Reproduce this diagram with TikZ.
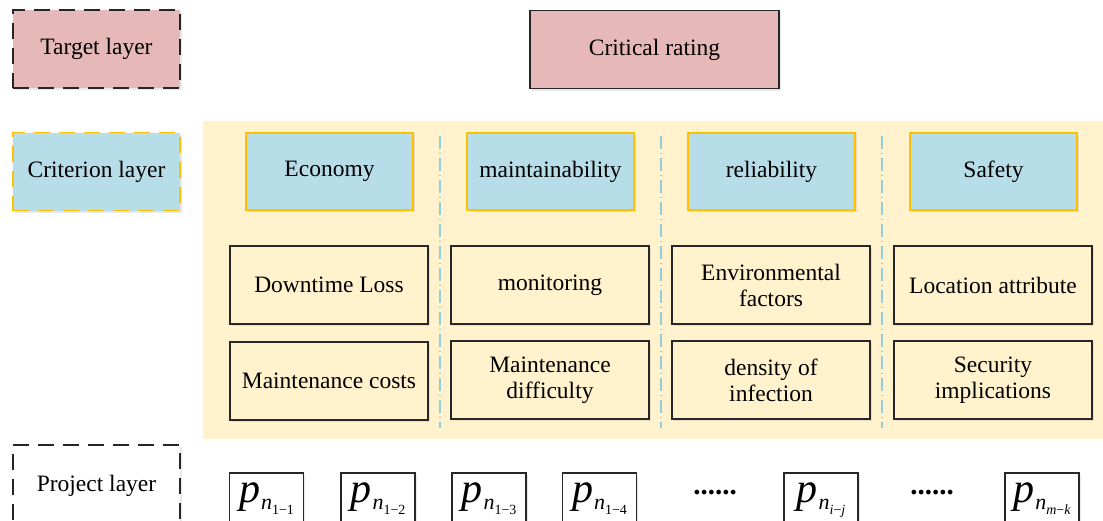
\documentclass[tikz,border=0pt]{standalone}
\usepackage{fontspec}
\setmainfont{Liberation Serif}
\usetikzlibrary{shadows}
\definecolor{pinkfill}{HTML}{E6B8B7}
\definecolor{bluefill}{HTML}{B7DDE8}
\definecolor{orangeline}{HTML}{FFC000}
\definecolor{yellowbg}{HTML}{FFF2CC}
\definecolor{sepblue}{HTML}{92CDDC}
\newcommand{\pitem}[2]{{\fontsize{42}{42}\selectfont\itshape p\/}\kern1pt\raisebox{-7pt}{\fontsize{22}{22}\selectfont\itshape n\raisebox{-5pt}{\fontsize{14}{14}\selectfont\upshape #1−#2}}}
\tikzset{
  shade/.style={drop shadow={shadow xshift=1.5pt, shadow yshift=-2pt, opacity=0.18, fill=gray}},
  layerbox/.style={draw, line width=1.8pt, dash pattern=on 16pt off 9pt, minimum width=167pt, minimum height=78pt, inner sep=0pt, font=\fontsize{23.5}{27}\selectfont, shade},
  critbox/.style={draw=orangeline, line width=1.6pt, fill=bluefill, minimum width=167pt, minimum height=77pt, inner sep=0pt, font=\fontsize{23.5}{27}\selectfont, shade},
  subbox/.style={draw=black!85, line width=1.6pt, fill=yellowbg, minimum width=198pt, minimum height=78pt, inner sep=0pt, align=center, font=\fontsize{23.5}{26}\selectfont, shade},
  pbox/.style={draw=black!85, line width=1.4pt, fill=white, minimum width=74pt, minimum height=52pt, inner sep=0pt, text height=23pt, text depth=17pt, shade},
  dotsnode/.style={font=\fontsize{29}{30}\selectfont\bfseries, inner sep=0pt},
  sepline/.style={draw=sepblue, line width=1.5pt, dash pattern=on 13pt off 4pt on 1pt off 4pt}
}
\begin{document}
\begin{tikzpicture}[x=1pt, y=-1pt]
\path[use as bounding box, clip] (0,0) rectangle (1103,520);
\fill[white] (0,0) rectangle (1103,520);
% background band
\fill[yellowbg] (203,121) rectangle (1103,439);
% separators
\coordinate (s1a) at (440,136); \coordinate (s1b) at (440,428);
\coordinate (s2a) at (661,136); \coordinate (s2b) at (661,428);
\coordinate (s3a) at (882,136); \coordinate (s3b) at (882,428);
\draw[sepline] (s1a) -- (s1b);
\draw[sepline] (s2a) -- (s2b);
\draw[sepline] (s3a) -- (s3b);
% layer labels
\node[layerbox, fill=pinkfill, draw=black!85] (target) at (96.5,49) {Target layer};
\node[layerbox, fill=bluefill, draw=orangeline] (criterion) at (96.5,171.5) {Criterion layer};
\node[layerbox, fill=white, draw=black!85, minimum height=82pt] (project) at (96.5,486) {Project layer};
% target
\node[draw=black!85, line width=1.6pt, fill=pinkfill, minimum width=249pt, minimum height=78pt, inner sep=0pt, font=\fontsize{23.5}{27}\selectfont, shade] (rating) at (654.5,49.5) {Critical rating};
% criteria
\node[critbox] (eco) at (329.5,171.5) {Economy};
\node[critbox] (main) at (550.5,171.5) {maintainability};
\node[critbox] (rel) at (771.5,171.5) {reliability};
\node[critbox] (saf) at (993.5,171.5) {Safety};
% sub-criteria
\node[subbox] (a1) at (329,285) {Downtime Loss};
\node[subbox] (a2) at (329,381) {Maintenance costs};
\node[subbox] (b1) at (550,285) {monitoring};
\node[subbox] (b2) at (550,380) {Maintenance\\difficulty};
\node[subbox] (c1) at (771,285) {Environmental\\factors};
\node[subbox] (c2) at (771,380) {density of\\infection};
\node[subbox] (d1) at (993,285) {Location attribute};
\node[subbox] (d2) at (993,380) {Security\\implications};
% project items
\node[pbox] (p1) at (266.5,499) {\pitem{1}{1}};
\node[pbox] (p2) at (378,499) {\pitem{1}{2}};
\node[pbox] (p3) at (489,499) {\pitem{1}{3}};
\node[pbox] (p4) at (599.5,499) {\pitem{1}{4}};
\node[dotsnode] (dots1) at (715,493) {......};
\node[pbox] (pij) at (821,499) {\pitem{\textit{i}}{\textit{j}}};
\node[dotsnode] (dots2) at (932,493) {......};
\node[pbox] (pmk) at (1042,499) {\pitem{\textit{m}}{\textit{k}}};
\end{tikzpicture}
\end{document}
